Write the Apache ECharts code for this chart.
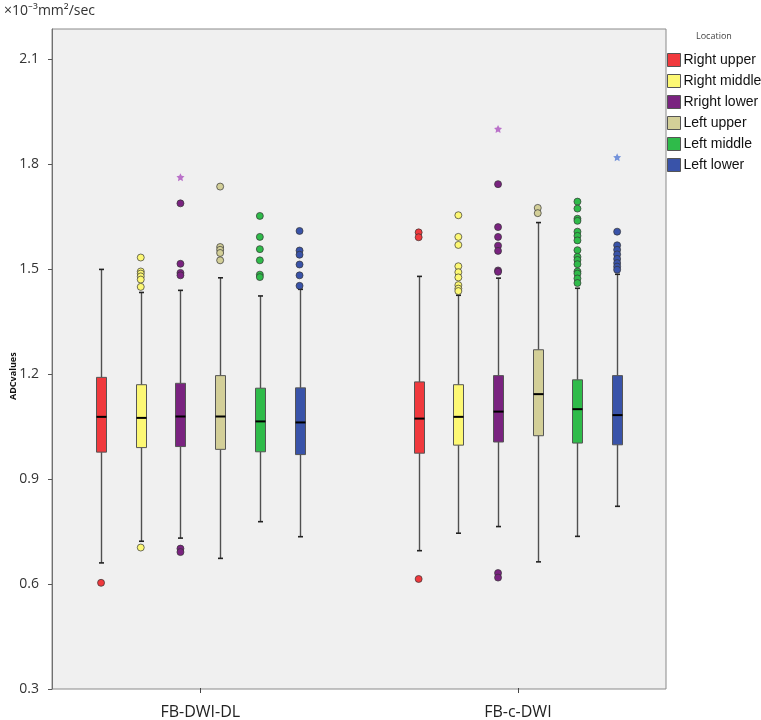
<!DOCTYPE html>
<html>
<head>
<meta charset="utf-8">
<script src="https://cdn.jsdelivr.net/npm/echarts@6/dist/echarts.min.js"></script>
<style>
html,body{margin:0;padding:0;background:#fff;}
#chart{width:761px;height:720px;}
</style>
</head>
<body>
<div id="chart"></div>
<script>
// ---- data ----
const groups = ['FB-DWI-DL', 'FB-c-DWI'];
const locations = ['Right upper', 'Right middle', 'Rright lower', 'Left upper', 'Left middle', 'Left lower'];
const colors = ['#f0393d', '#fdf874', '#7a2380', '#d3cf98', '#2fbb4a', '#3953a9'];
const starColors = ['#f0393d', '#fdf874', '#b463c4', '#d3cf98', '#2fbb4a', '#6688d8'];
const yTicks = [0.3, 0.6, 0.9, 1.2, 1.5, 1.8, 2.1];

// [min, Q1, median, Q3, max] per location
const dlStats = [
  [0.658, 0.975, 1.076, 1.189, 1.498],
  [0.720, 0.988, 1.073, 1.168, 1.432],
  [0.729, 0.991, 1.077, 1.172, 1.438],
  [0.671, 0.983, 1.077, 1.194, 1.474],
  [0.776, 0.976, 1.063, 1.158, 1.422],
  [0.733, 0.968, 1.060, 1.159, 1.441]
];
const cStats = [
  [0.693, 0.972, 1.071, 1.176, 1.478],
  [0.743, 0.995, 1.076, 1.168, 1.424],
  [0.762, 1.004, 1.091, 1.194, 1.473],
  [0.661, 1.022, 1.141, 1.268, 1.632],
  [0.734, 1.001, 1.098, 1.182, 1.444],
  [0.820, 0.996, 1.081, 1.194, 1.484]
];
const dlOutliers = [
  [0.601],
  [1.532, 1.492, 1.486, 1.478, 1.469, 1.448, 0.702],
  [1.687, 1.514, 1.488, 1.481, 0.699, 0.689],
  [1.735, 1.562, 1.554, 1.545, 1.524],
  [1.651, 1.591, 1.556, 1.524, 1.483, 1.476],
  [1.608, 1.552, 1.540, 1.512, 1.481, 1.451]
];
const cOutliers = [
  [1.604, 1.590, 0.612],
  [1.653, 1.591, 1.568, 1.507, 1.490, 1.475, 1.453, 1.443, 1.436],
  [1.742, 1.619, 1.591, 1.566, 1.551, 1.495, 1.491, 0.629, 0.616],
  [1.674, 1.659],
  [1.692, 1.672, 1.643, 1.637, 1.606, 1.594, 1.581, 1.553, 1.534, 1.525, 1.513, 1.492, 1.486, 1.472, 1.459],
  [1.606, 1.567, 1.554, 1.541, 1.528, 1.516, 1.506, 1.497]
];
const dlExtremes = [[], [], [1.762], [], [], []];
const cExtremes = [[], [], [1.900], [], [], [1.819]];

// ---- build ----
const statsByGroup = [dlStats, cStats];
const outByGroup = [dlOutliers, cOutliers];
const extByGroup = [dlExtremes, cExtremes];

// slot axis: each group = pad, 6 location slots, pad
const slotName = (g, i) => groups[g] + '|' + locations[i];
const slots = [];
groups.forEach((g, gi) => {
  slots.push(g + '|padL');
  locations.forEach((l, li) => slots.push(slotName(gi, li)));
  slots.push(g + '|padR');
});

function renderBox(params, api) {
  const x = api.value(0);
  const pMin = api.coord([x, api.value(1)]);
  const pQ1 = api.coord([x, api.value(2)]);
  const pMed = api.coord([x, api.value(3)]);
  const pQ3 = api.coord([x, api.value(4)]);
  const pMax = api.coord([x, api.value(5)]);
  const cx = Math.round(pMin[0]) + 0.5;
  const hw = 5, cap = 2.5;
  const color = api.visual('color');
  return {
    type: 'group',
    children: [
      { type: 'line', shape: { x1: cx, y1: pMax[1], x2: cx, y2: pQ3[1] }, style: { stroke: '#505050', lineWidth: 1.4 } },
      { type: 'line', shape: { x1: cx, y1: pQ1[1], x2: cx, y2: pMin[1] }, style: { stroke: '#505050', lineWidth: 1.4 } },
      { type: 'line', shape: { x1: cx - cap, y1: pMax[1], x2: cx + cap, y2: pMax[1] }, style: { stroke: '#222', lineWidth: 1.6 } },
      { type: 'line', shape: { x1: cx - cap, y1: pMin[1], x2: cx + cap, y2: pMin[1] }, style: { stroke: '#222', lineWidth: 1.6 } },
      { type: 'rect', shape: { x: cx - hw, y: pQ3[1], width: hw * 2, height: pQ1[1] - pQ3[1] }, style: { fill: color, stroke: '#555', lineWidth: 1 } },
      { type: 'line', shape: { x1: cx - hw, y1: pMed[1], x2: cx + hw, y2: pMed[1] }, style: { stroke: '#000', lineWidth: 2 } }
    ]
  };
}

const starPath = 'path://M0,-10L2.9,-4L9.5,-3.1L4.7,1.5L5.9,8.1L0,5L-5.9,8.1L-4.7,1.5L-9.5,-3.1L-2.9,-4Z';

const series = [];
locations.forEach((loc, li) => {
  series.push({
    name: loc,
    type: 'custom',
    xAxisIndex: 2,
    yAxisIndex: 1,
    itemStyle: { color: colors[li] },
    encode: { x: 0, y: [1, 2, 3, 4, 5] },
    data: groups.map((g, gi) => [slotName(gi, li)].concat(statsByGroup[gi][li])),
    renderItem: renderBox,
    z: 2
  });
});
locations.forEach((loc, li) => {
  const pts = [];
  groups.forEach((g, gi) => outByGroup[gi][li].forEach(v => pts.push([slotName(gi, li), v])));
  series.push({
    name: loc,
    type: 'scatter',
    xAxisIndex: 2,
    yAxisIndex: 1,
    symbol: 'circle',
    symbolSize: 7,
    itemStyle: { color: colors[li], borderColor: '#333', borderWidth: 0.7, opacity: 1 },
    data: pts,
    z: 3
  });
  const ext = [];
  groups.forEach((g, gi) => extByGroup[gi][li].forEach(v => ext.push([slotName(gi, li), v])));
  if (ext.length) {
    series.push({
      name: loc,
      type: 'scatter',
      xAxisIndex: 2,
      yAxisIndex: 1,
      symbol: starPath,
      symbolSize: 8,
      itemStyle: { color: starColors[li], opacity: 0.9 },
      data: ext,
      z: 3
    });
  }
});

const chart = echarts.init(document.getElementById('chart'));
chart.setOption({
  animation: false,
  backgroundColor: '#ffffff',
  textStyle: { fontFamily: 'Open Sans' },
  grid: [
    { left: 52, right: 95, top: 29, bottom: 31, show: true, backgroundColor: '#f0f0f0', borderColor: '#8a8a8a', borderWidth: 1 },
    { left: 41.5, width: 635.2, top: 29, bottom: 31 }
  ],
  xAxis: [
    { gridIndex: 0, type: 'category', data: groups, show: false },
    {
      gridIndex: 1, type: 'category', data: groups,
      axisLine: { show: false },
      axisTick: { show: true, alignWithLabel: true, length: 5, lineStyle: { color: '#444' } },
      axisLabel: { fontSize: 16, color: '#222', margin: 16, fontFamily: 'Open Sans' }
    },
    { gridIndex: 1, type: 'category', data: slots, show: false }
  ],
  yAxis: [
    {
      gridIndex: 0, type: 'value', min: yTicks[0], max: 2.186, interval: 0.3,
      axisLine: { show: true, lineStyle: { color: '#707070' } },
      axisTick: { show: true, length: 4, lineStyle: { color: '#555' } },
      axisLabel: { fontSize: 14, color: '#333', margin: 13, showMaxLabel: false, fontFamily: 'Open Sans',
        formatter: v => yTicks.some(t => Math.abs(t - v) < 1e-6) ? v.toFixed(1) : '' },
      splitLine: { show: false }
    },
    { gridIndex: 1, type: 'value', min: yTicks[0], max: 2.186, show: false }
  ],
  legend: {
    data: locations,
    orient: 'vertical',
    left: 667,
    top: 53,
    padding: 0,
    itemWidth: 13,
    itemHeight: 13,
    itemGap: 7,
    icon: 'rect',
    itemStyle: { borderColor: '#555', borderWidth: 1 },
    textStyle: { fontSize: 14, color: '#111', padding: [0, 0, 0, -2], lineHeight: 13, fontFamily: 'Liberation Sans' }
  },
  graphic: [
    { type: 'text', left: 4, top: 3, style: { text: '×10⁻³mm²/sec', fontSize: 14, lineHeight: 16, fill: '#333', fontFamily: 'Open Sans' } },
    { type: 'text', left: 696, top: 32, style: { text: 'Location', fontSize: 9, fill: '#444', fontFamily: 'Open Sans' } },
    { type: 'text', x: 9, y: 400, rotation: Math.PI / 2, style: { text: 'ADCvalues', fontSize: 9, fontWeight: 'bold', fill: '#111', fontFamily: 'Open Sans' } }
  ],
  series: series
});
</script>
</body>
</html>
